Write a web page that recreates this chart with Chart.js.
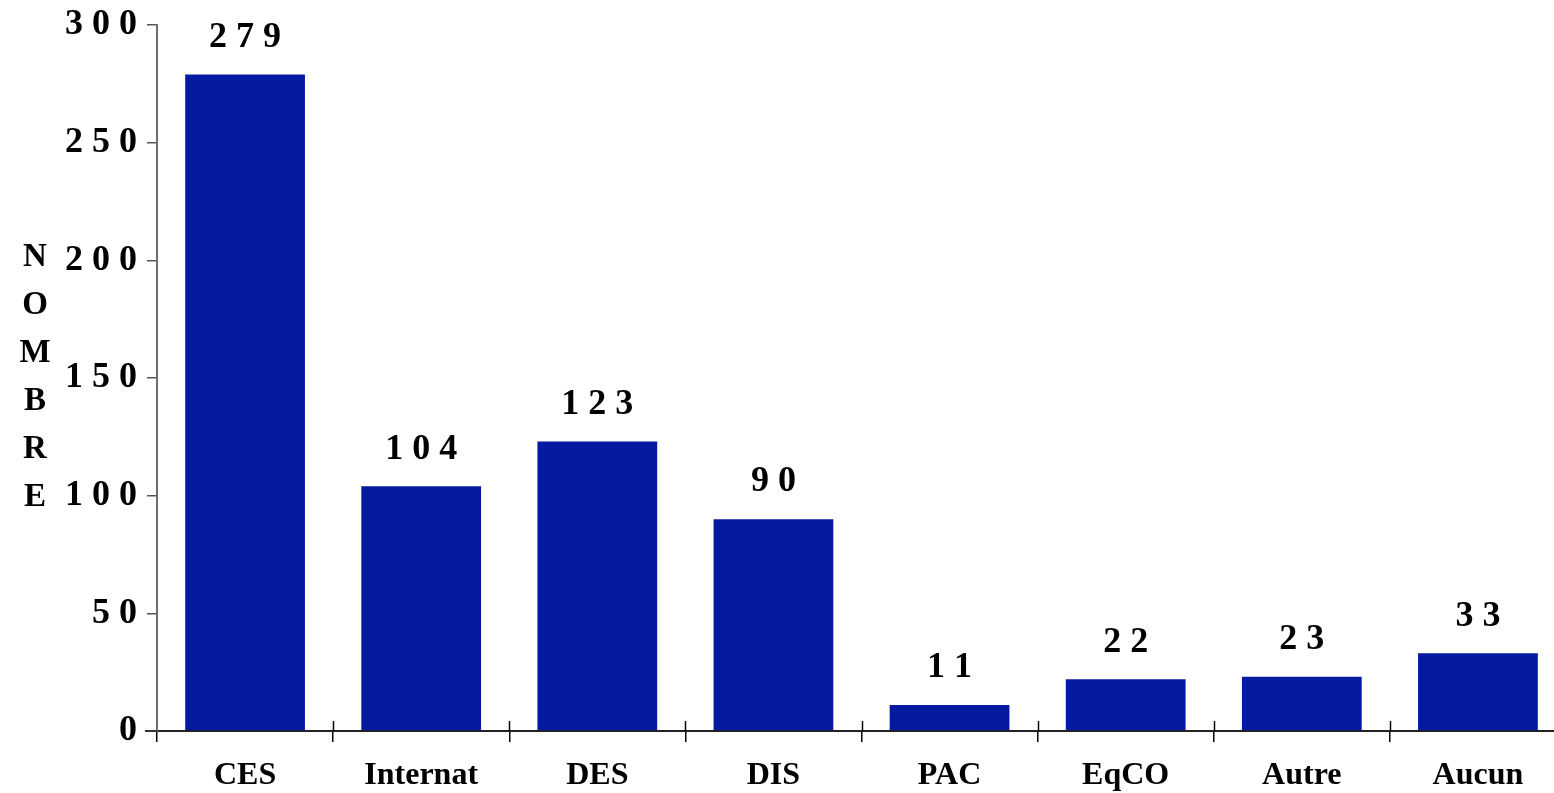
<!DOCTYPE html>
<html>
<head>
<meta charset="utf-8">
<script src="https://cdn.jsdelivr.net/npm/chart.js@4.4.1/dist/chart.umd.min.js"></script>
<style>
  html, body { margin: 0; padding: 0; background: #fff; overflow: hidden; }
  #wrap { width: 1566px; height: 793px; position: relative; }
</style>
</head>
<body>
<div id="wrap"><canvas id="canvas"></canvas></div>
<script>
const categories = ['CES', 'Internat', 'DES', 'DIS', 'PAC', 'EqCO', 'Autre', 'Aucun'];
const values = [279, 104, 123, 90, 11, 22, 23, 33];
const yTickLabels = ['0', '5 0', '1 0 0', '1 5 0', '2 0 0', '2 5 0', '3 0 0'];
const axisTitle = ['N', 'O', 'M', 'B', 'R', 'E'];

const FONT = "'Liberation Serif', 'Times New Roman', serif";
const spaced = v => String(v).split('').join(' ');

// value labels above the bars
const barLabels = {
    id: 'barLabels',
    afterDatasetsDraw(chart) {
        const ctx = chart.ctx;
        const meta = chart.getDatasetMeta(0);
        ctx.save();
        ctx.fillStyle = '#000';
        ctx.font = 'bold 36px ' + FONT;
        ctx.textAlign = 'center';
        ctx.textBaseline = 'middle';
        meta.data.forEach((bar, i) => {
            ctx.fillText(spaced(values[i]), bar.x, bar.y - 37);
        });
        ctx.restore();
    }
};

// stacked letters for the y title + upper half of the x ticks
const extras = {
    id: 'extras',
    afterDraw(chart) {
        const ctx = chart.ctx;
        const area = chart.chartArea;
        ctx.save();
        ctx.fillStyle = '#000';
        ctx.font = 'bold 33px ' + FONT;
        ctx.textAlign = 'center';
        ctx.textBaseline = 'middle';
        const mid = (area.top + area.bottom) / 2 - 1;
        axisTitle.forEach((ch, i) => {
            ctx.fillText(ch, 35, mid + (i - 2.5) * 48);
        });
        // ticks crossing above the x axis
        const xs = chart.scales.x;
        const n = categories.length;
        ctx.strokeStyle = '#000';
        ctx.lineWidth = 1.5;
        for (let i = 1; i <= n; i++) {
            const x = Math.round(xs.left + i * xs.width / n) + 0.5;
            ctx.beginPath();
            ctx.moveTo(x, area.bottom);
            ctx.lineTo(x, area.bottom - 10);
            ctx.stroke();
        }
        // short extension of x axis left of y axis
        ctx.strokeStyle = '#333';
        ctx.lineWidth = 2;
        ctx.beginPath();
        ctx.moveTo(area.left - 12, area.bottom);
        ctx.lineTo(area.left, area.bottom);
        ctx.stroke();
        ctx.restore();
    }
};

const ctx = document.getElementById('canvas').getContext('2d');
window.myBar = new Chart(ctx, {
    type: 'bar',
    data: {
        labels: categories,
        datasets: [{
            data: values,
            backgroundColor: '#041aa0',
            borderWidth: 0,
            categoryPercentage: 1,
            barPercentage: 0.68
        }]
    },
    options: {
        responsive: true,
        maintainAspectRatio: false,
        animation: false,
        layout: { padding: { top: 25, left: 0, right: 0, bottom: 0 } },
        plugins: {
            legend: { display: false },
            title: { display: false },
            tooltip: { enabled: false }
        },
        scales: {
            x: {
                offset: true,
                grid: {
                    offset: true,
                    drawOnChartArea: false,
                    drawTicks: true,
                    tickLength: 11,
                    color: '#000',
                    lineWidth: 1.5
                },
                border: { display: true, color: '#222', width: 2 },
                ticks: {
                    color: '#000',
                    padding: 15,
                    maxRotation: 0,
                    font: { family: FONT, size: 32, weight: 'bold' }
                },
                afterFit: s => { s.height = 62; }
            },
            y: {
                min: 0,
                max: 300,
                ticks: {
                    stepSize: 50,
                    color: '#000',
                    padding: 10,
                    font: { family: FONT, size: 36, weight: 'bold' },
                    callback: (v, i) => yTickLabels[i]
                },
                grid: {
                    drawOnChartArea: false,
                    drawTicks: true,
                    tickLength: 10,
                    color: '#555',
                    lineWidth: 1.5
                },
                border: { display: true, color: '#6e6e78', width: 2 },
                afterFit: s => { s.width = 157; s.paddingTop = 0; s.paddingBottom = 0; }
            }
        }
    },
    plugins: [barLabels, extras]
});
</script>
</body>
</html>
